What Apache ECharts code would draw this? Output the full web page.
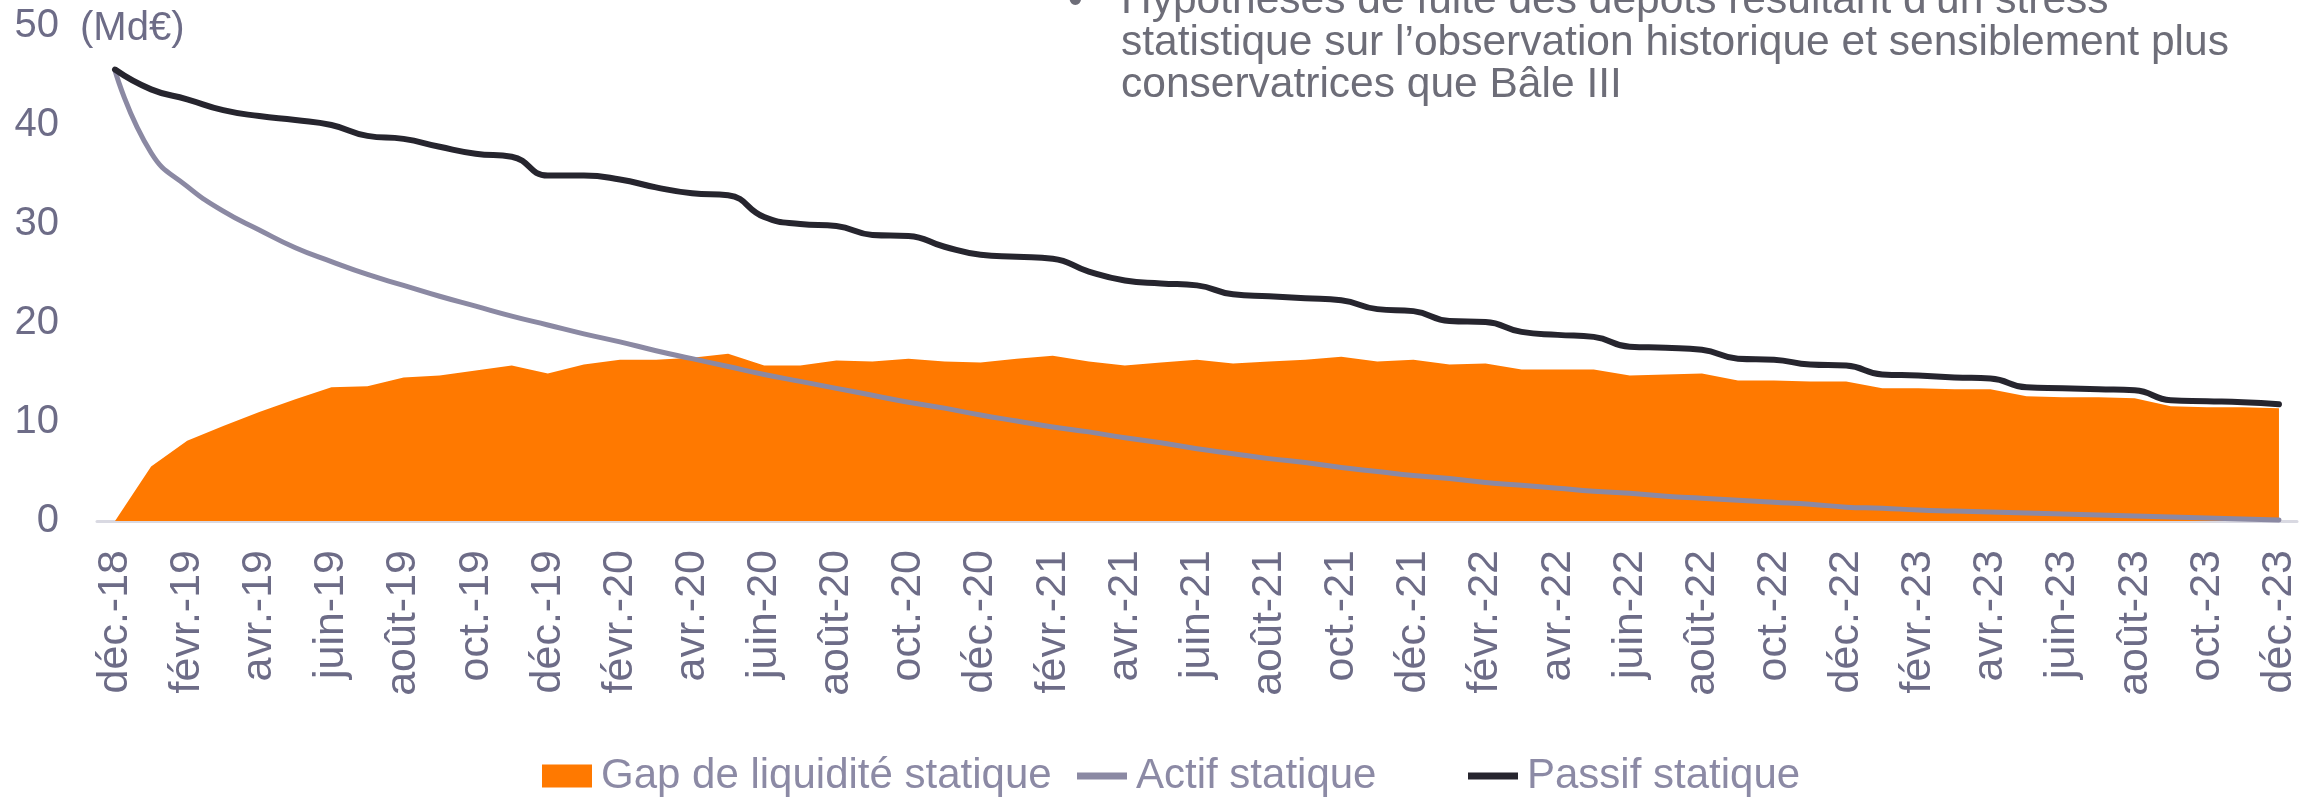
<!DOCTYPE html>
<html>
<head>
<meta charset="UTF-8" />
<title>Gap de liquidité statique</title>
<script src="https://cdn.jsdelivr.net/npm/echarts@6/dist/echarts.min.js"></script>
<style>
  html, body { margin: 0; padding: 0; background: #fff; }
  #chart { width: 2320px; height: 801px; }
</style>
</head>
<body>
<div id="chart"></div>
<script>
// mois, de déc.-18 à déc.-23
var mois = [
  'déc.-18',
  'janv.-19', 'févr.-19', 'mars-19', 'avr.-19', 'mai-19', 'juin-19', 'juil.-19', 'août-19', 'sept.-19', 'oct.-19', 'nov.-19', 'déc.-19',
  'janv.-20', 'févr.-20', 'mars-20', 'avr.-20', 'mai-20', 'juin-20', 'juil.-20', 'août-20', 'sept.-20', 'oct.-20', 'nov.-20', 'déc.-20',
  'janv.-21', 'févr.-21', 'mars-21', 'avr.-21', 'mai-21', 'juin-21', 'juil.-21', 'août-21', 'sept.-21', 'oct.-21', 'nov.-21', 'déc.-21',
  'janv.-22', 'févr.-22', 'mars-22', 'avr.-22', 'mai-22', 'juin-22', 'juil.-22', 'août-22', 'sept.-22', 'oct.-22', 'nov.-22', 'déc.-22',
  'janv.-23', 'févr.-23', 'mars-23', 'avr.-23', 'mai-23', 'juin-23', 'juil.-23', 'août-23', 'sept.-23', 'oct.-23', 'nov.-23', 'déc.-23'
];

// Md€
var gap = [
  0, 5.5, 8.1, 9.6, 11.0, 12.3, 13.5, 13.6, 14.5, 14.7, 15.2, 15.7, 14.9,
  15.8, 16.3, 16.3, 16.5, 16.9, 15.7, 15.7, 16.2, 16.1, 16.4, 16.1, 16.0,
  16.4, 16.7, 16.1, 15.7, 16.0, 16.3, 15.9, 16.1, 16.3, 16.6, 16.1, 16.3,
  15.8, 15.9, 15.3, 15.3, 15.3, 14.7, 14.8, 14.9, 14.2, 14.2, 14.1, 14.1,
  13.4, 13.4, 13.3, 13.3, 12.6, 12.5, 12.5, 12.4, 11.6, 11.5, 11.5, 11.4
];
var actif = [
  45.5, 37.2, 33.8, 31.3, 29.4, 27.6, 26.2, 24.9, 23.8, 22.7, 21.7, 20.7, 19.8,
  18.9, 18.1, 17.2, 16.4, 15.6, 14.8, 14.1, 13.4, 12.7, 12.0, 11.4, 10.7,
  10.1, 9.5, 9.0, 8.4, 7.9, 7.3, 6.8, 6.3, 5.9, 5.4, 5.0, 4.6,
  4.3, 3.9, 3.6, 3.3, 3.0, 2.8, 2.5, 2.3, 2.1, 1.9, 1.7, 1.4,
  1.3, 1.1, 1.0, 0.9, 0.8, 0.7, 0.6, 0.5, 0.4, 0.3, 0.2, 0.1
];
var passif = [
  45.6, 43.6, 42.6, 41.5, 40.9, 40.5, 40.0, 38.9, 38.6, 37.8, 37.1, 36.8, 34.9,
  34.9, 34.5, 33.7, 33.1, 32.9, 30.7, 30.0, 29.8, 28.9, 28.8, 27.7, 26.9,
  26.7, 26.5, 25.2, 24.3, 24.0, 23.8, 22.9, 22.7, 22.5, 22.3, 21.4, 21.2,
  20.2, 20.1, 19.1, 18.8, 18.6, 17.6, 17.5, 17.3, 16.4, 16.3, 15.8, 15.7,
  14.8, 14.7, 14.5, 14.4, 13.5, 13.4, 13.3, 13.2, 12.2, 12.1, 12.0, 11.8
];

var noteLignes = [
  'Hypothèses de fuite des dépôts résultant d\u2019un stress',
  'statistique sur l\u2019observation historique et sensiblement plus',
  'conservatrices que Bâle III'
];

var police = '"Liberation Sans", Arial, sans-serif';
var gris = '#6d6c87';
var grisNote = '#6d6d78';
var iconeTrait = 'path://M0,0H50V7H0Z';

// une légende par entrée, pour garder l'espacement du modèle
function legende(nom, icone, gauche) {
  return {
    top: 750,
    left: gauche,
    itemWidth: 50,
    itemHeight: 23,
    textStyle: { fontFamily: police, fontSize: 42, color: '#8c8aa5', padding: [0, 0, 0, 4] },
    data: [{ name: nom, icon: icone }]
  };
}

var myChart = echarts.init(document.getElementById('chart'));

var option = {
  animation: false,
  grid: { left: 97, right: 23, top: 26, bottom: 280, containLabel: false },
  legend: [
    legende('Gap de liquidité statique', 'rect', 537),
    legende('Actif statique', iconeTrait, 1072),
    legende('Passif statique', iconeTrait, 1463)
  ],
  xAxis: {
    type: 'category',
    data: mois,
    boundaryGap: true,
    axisLine: { lineStyle: { color: '#d9d9e2', width: 3 } },
    axisTick: { show: false },
    axisLabel: {
      interval: 1,
      rotate: 90,
      margin: 29,
      fontFamily: police,
      fontSize: 43,
      color: gris
    }
  },
  yAxis: {
    type: 'value',
    min: 0,
    max: 50,
    interval: 10,
    axisLine: { show: false },
    axisTick: { show: false },
    splitLine: { show: false },
    axisLabel: { margin: 38, fontFamily: police, fontSize: 40, color: gris }
  },
  graphic: [
    { type: 'text', left: 80, top: 9, style: { text: '(Md€)', font: '40px ' + police, fill: gris } },
    { type: 'text', x: 1068, y: 1, style: { text: '\u2022', font: '42px ' + police, fill: grisNote, verticalAlign: 'middle' } },
    { type: 'text', x: 1121, y: 1, style: { text: noteLignes[0], font: '42.5px ' + police, fill: grisNote, verticalAlign: 'middle' } },
    { type: 'text', x: 1121, y: 43, style: { text: noteLignes[1], font: '42.5px ' + police, fill: grisNote, verticalAlign: 'middle' } },
    { type: 'text', x: 1121, y: 85, style: { text: noteLignes[2], font: '42.5px ' + police, fill: grisNote, verticalAlign: 'middle' } }
  ],
  series: [
    {
      name: 'Gap de liquidité statique',
      type: 'line',
      data: gap,
      symbol: 'none',
      lineStyle: { width: 0, color: '#ff7900' },
      itemStyle: { color: '#ff7900' },
      areaStyle: { color: '#ff7900', opacity: 1 },
      z: 1
    },
    {
      name: 'Actif statique',
      type: 'line',
      data: actif,
      smooth: true,
      symbol: 'none',
      lineStyle: { width: 5, color: '#8b89a3', cap: 'round' },
      itemStyle: { color: '#8b89a3' },
      z: 2
    },
    {
      name: 'Passif statique',
      type: 'line',
      data: passif,
      smooth: true,
      symbol: 'none',
      lineStyle: { width: 6, color: '#26252e', cap: 'round' },
      itemStyle: { color: '#26252e' },
      z: 3
    }
  ]
};

myChart.setOption(option);
</script>
</body>
</html>
